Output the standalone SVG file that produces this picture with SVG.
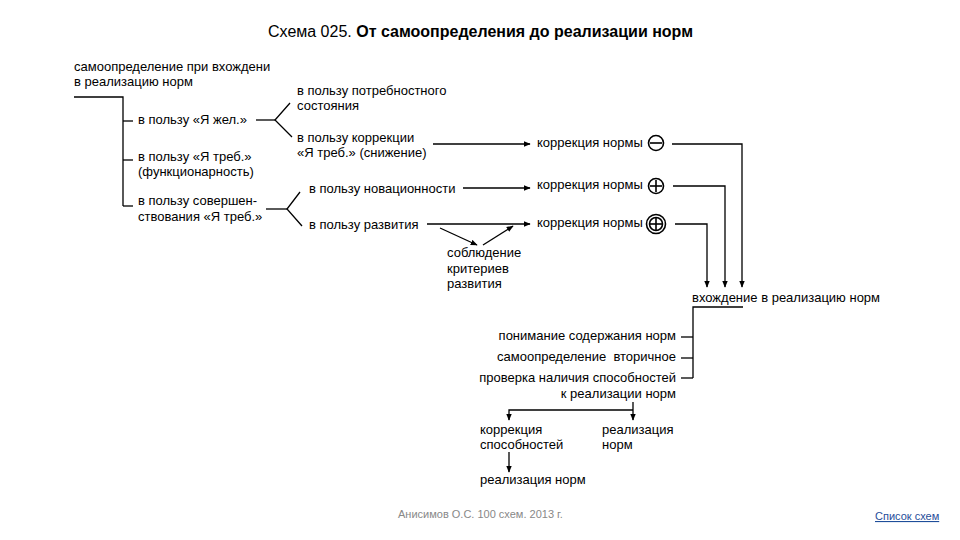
<svg xmlns="http://www.w3.org/2000/svg" width="960" height="540" viewBox="0 0 960 540">
<defs>
<marker id="ah" viewBox="0 0 10 10" refX="9" refY="5" markerWidth="7" markerHeight="7" orient="auto" markerUnits="userSpaceOnUse"><path d="M0,1 L10,5 L0,9 Z" fill="#000"/></marker>
<style>
text{font-family:"Liberation Sans",Arial,sans-serif;font-size:13px;fill:#000}
.t{font-size:16px}
.b{font-weight:bold}
.r{text-anchor:end}
.l{stroke:#000;stroke-width:1.3;fill:none}
.a{stroke:#000;stroke-width:1.3;fill:none;marker-end:url(#ah)}
.ft{font-size:11px;fill:#888}
.lk{font-size:11px;fill:#1f4e9a;text-decoration:underline}
</style>
</defs>
<rect width="960" height="540" fill="#fff"/>
<text class="t" x="268" y="37">Схема 025. <tspan class="b">От самоопределения до реализации норм</tspan></text>

<g id="n-root"><text x="74" y="71">самоопределение при вхождени</text><text x="74" y="86">в реализацию норм</text></g>
<g id="n-zhel"><text x="138" y="124">в пользу «Я жел.»</text></g>
<g id="n-treb"><text x="138" y="161">в пользу «Я треб.»</text><text x="138" y="176">(функционарность)</text></g>
<g id="n-sover"><text x="138" y="205">в пользу совершен-</text><text x="138" y="221">ствования «Я треб.»</text></g>
<g id="n-potreb"><text x="297" y="95">в пользу потребностного</text><text x="297" y="110">состояния</text></g>
<g id="n-korr"><text x="297" y="142">в пользу коррекции</text><text x="297" y="157">«Я треб.» (снижение)</text></g>
<g id="n-novac"><text x="309" y="193">в пользу новационности</text></g>
<g id="n-razv"><text x="309" y="229">в пользу развития</text></g>
<g id="n-kn1"><text x="537" y="147">коррекция нормы</text>
<circle cx="656" cy="143" r="7.5" fill="none" stroke="#000" stroke-width="1.6"/><line x1="650" y1="143" x2="662" y2="143" stroke="#000" stroke-width="1.6"/></g>
<g id="n-kn2"><text x="537" y="189">коррекция нормы</text>
<circle cx="656" cy="186" r="7.5" fill="none" stroke="#000" stroke-width="1.6"/><line x1="650" y1="186" x2="662" y2="186" stroke="#000" stroke-width="1.6"/><line x1="656" y1="180" x2="656" y2="192" stroke="#000" stroke-width="1.6"/></g>
<g id="n-kn3"><text x="537" y="227">коррекция нормы</text>
<circle cx="656" cy="224" r="9.5" fill="none" stroke="#000" stroke-width="1.6"/><circle cx="656" cy="224" r="6.5" fill="none" stroke="#000" stroke-width="1.6"/><line x1="650" y1="224" x2="662" y2="224" stroke="#000" stroke-width="1.6"/><line x1="656" y1="218" x2="656" y2="230" stroke="#000" stroke-width="1.6"/></g>
<g id="n-sobl"><text x="447" y="257">соблюдение</text><text x="447" y="273">критериев</text><text x="447" y="288">развития</text></g>
<g id="n-vhozh"><text x="692" y="302">вхождение в реализацию норм</text></g>
<g id="n-ponim"><text class="r" x="676" y="340">понимание содержания норм</text></g>
<g id="n-samo2"><text class="r" x="676" y="361" xml:space="preserve">самоопределение  вторичное</text></g>
<g id="n-prov"><text class="r" x="676" y="382">проверка наличия способностей</text><text class="r" x="676" y="398">к реализации норм</text></g>
<g id="n-korsp"><text x="480" y="434">коррекция</text><text x="480" y="449">способностей</text></g>
<g id="n-realn"><text x="602" y="434">реализация</text><text x="602" y="449">норм</text></g>
<g id="n-realn2"><text x="480" y="484">реализация норм</text></g>

<g id="connectors">
<polyline class="l" points="74,97 123,97 123,206"/>
<line class="l" x1="123" y1="121" x2="133" y2="121"/>
<line class="l" x1="123" y1="160" x2="133" y2="160"/>
<line class="l" x1="123" y1="206" x2="133" y2="206"/>
<line class="l" x1="256" y1="120" x2="275" y2="120"/>
<polyline class="l" points="290,103 275,120 292,137"/>
<line class="l" x1="266" y1="209" x2="287" y2="209"/>
<polyline class="l" points="300,192 287,209 302,226"/>
<line class="a" x1="433" y1="144" x2="530" y2="144"/>
<line class="a" x1="463" y1="188" x2="530" y2="188"/>
<line class="a" x1="427" y1="224" x2="530" y2="224"/>
<line class="a" x1="440" y1="228" x2="477" y2="245"/>
<line class="a" x1="483" y1="245" x2="513" y2="226"/>
<polyline class="a" points="672,144 742,144 742,287"/>
<polyline class="a" points="673,186 725,186 725,287"/>
<polyline class="a" points="675,224 707,224 707,287"/>
<polyline class="l" points="743,307 693,307 693,378"/>
<line class="l" x1="681" y1="337" x2="693" y2="337"/>
<line class="l" x1="681" y1="358" x2="693" y2="358"/>
<line class="l" x1="681" y1="378" x2="693" y2="378"/>
<line class="l" x1="633" y1="402" x2="633" y2="410"/>
<polyline class="a" points="633,410 509,410 509,420"/>
<line class="a" x1="633" y1="410" x2="633" y2="420"/>
<line class="a" x1="509" y1="452" x2="509" y2="472"/>
</g>
<text class="ft" x="398" y="518">Анисимов О.С. 100 схем. 2013 г.</text>
<text class="lk" x="875" y="520">Список схем</text>
</svg>
